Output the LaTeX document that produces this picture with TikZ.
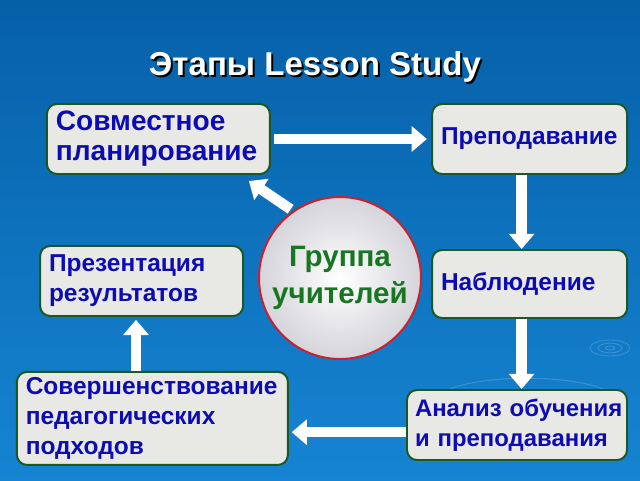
\documentclass[tikz,border=0pt]{standalone}
\usepackage{fontspec}
\setmainfont{Liberation Sans}
\usepackage{xcolor}
\usetikzlibrary{arrows.meta,positioning}

\definecolor{bgtop}{RGB}{6,96,168}
\definecolor{bgmid}{RGB}{8,100,172}
\definecolor{bgbottom}{RGB}{22,132,210}
\definecolor{boxtext}{RGB}{12,12,178}
\definecolor{boxedge}{RGB}{28,88,36}
\definecolor{boxfill}{RGB}{232,232,229}
\definecolor{groupgreen}{RGB}{24,118,34}
\definecolor{groupedge}{RGB}{205,32,44}

\begin{document}
\begin{tikzpicture}[thick]
    \tikzstyle{stagebox}=[rectangle, rounded corners=0.25cm, draw=boxedge, line width=1.4pt, fill=boxfill, text=boxtext, align=left, inner xsep=0.22cm, font=\fontsize{17.4}{21.3}\selectfont\bfseries]
    \tikzstyle{bigarrow}=[draw=white, line width=0.26cm, -{Triangle[length=0.38cm,width=0.62cm]}]

    % background
    \shade[top color=bgtop, middle color=bgmid, bottom color=bgbottom] (0,0) rectangle (16,-12);
    \useasboundingbox (0,0) rectangle (16,-12);
    \draw[white, opacity=0.18, line width=0.6pt] (15.25,-8.7) ellipse (0.5 and 0.2) (15.25,-8.7) ellipse (0.3 and 0.12) (15.25,-8.7) ellipse (0.12 and 0.05);
    \draw[white, opacity=0.15, line width=0.8pt] (11,-9.85) arc[start angle=160, end angle=20, x radius=2.3, y radius=0.6];

    % title
    \node[text=black, font=\fontsize{23.5}{28}\selectfont\bfseries] (titleshadow) at (7.925,-1.725) {Этапы Lesson Study};
    \node[text=white, font=\fontsize{23.5}{28}\selectfont\bfseries] (title) at (7.875,-1.675) {Этапы Lesson Study};

    \node[stagebox, minimum width=5.575cm, minimum height=1.75cm, text width=5.13cm, font=\fontsize{20}{21.3}\selectfont\bfseries] (plan) at (3.96,-3.475) {Совместное\\планирование};
    \node[stagebox, minimum width=4.875cm, minimum height=1.75cm, text width=4.43cm] (teach) at (13.24,-3.475) {Преподавание};
    \node[stagebox, minimum width=4.875cm, minimum height=1.7cm, text width=4.43cm] (observe) at (13.24,-7.1) {Наблюдение};
    \node[stagebox, minimum width=5.5cm, minimum height=1.75cm, text width=5.1cm, inner xsep=0.2cm, font=\fontsize{17}{21.3}\selectfont\bfseries] (analyse) at (12.925,-10.625) {Анализ~обучения\\и преподавания};
    \node[stagebox, minimum width=6.775cm, minimum height=2.325cm, text width=6.33cm] (improve) at (3.81,-10.46) {Совершенствование\\педагогических\\подходов};
    \node[stagebox, minimum width=5.075cm, minimum height=1.75cm, text width=4.63cm] (present) at (3.54,-7.025) {Презентация\\результатов};

    \node[circle, draw=groupedge, line width=1.4pt, inner color=white, outer color={rgb,255:red,212;green,212;blue,218}, minimum size=3.7cm, text=groupgreen, align=center, font=\fontsize{21}{26}\selectfont\bfseries] (group) at (8.5,-6.95) {Группа\\учителей};

    \path
    (plan.east)                       edge [bigarrow, shorten <=2pt, shorten >=3pt] (teach.west)
    ([xshift=-0.2cm]teach.south)      edge [bigarrow] ([xshift=-0.2cm]observe.north)
    ([xshift=-0.2cm]observe.south)    edge [bigarrow] ([xshift=-0.2cm]observe.south |- analyse.north)
    ([yshift=-0.18cm]analyse.west)    edge [bigarrow, shorten >=2pt] ([yshift=-0.18cm]analyse.west -| improve.east)
    ([xshift=-0.14cm]present.south |- improve.north) edge [bigarrow, shorten >=2pt] ([xshift=-0.14cm]present.south)
    (group.125)                       edge [bigarrow, shorten <=2pt] ([xshift=-0.55cm,yshift=-0.15cm]plan.south east);

  \end{tikzpicture}
\end{document}
